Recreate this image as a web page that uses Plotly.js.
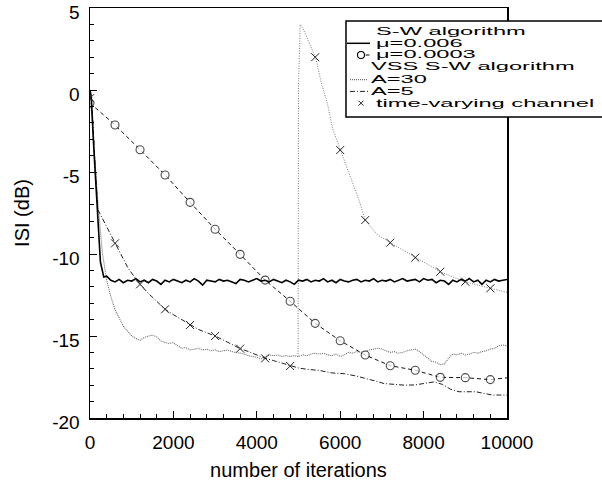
<!DOCTYPE html>
<html><head><meta charset="utf-8">
<script src="https://cdn.plot.ly/plotly-3.0.1.min.js"></script>
<style>
html,body{margin:0;padding:0;background:#fff;}
#chart{width:602px;height:491px;}
.annotation-text{transform:scaleX(2.15);transform-box:fill-box;transform-origin:0 50%;}
</style></head><body><div id="chart"></div>
<script>
// ---------------- data ----------------
const xTicks = [0, 2000, 4000, 6000, 8000, 10000];
const yTicks = [-20, -15, -10, -5, 0, 5];

// S-W algorithm, mu = 0.006 (solid)
const mu006X = [0,30,90,170,250,330,
 400,500,600,700,800,900,1000,1100,1200,1300,1400,1500,1600,1700,1800,1900,2000,2100,2200,2300,2400,2500,2600,2700,2800,2900,
 3000,3100,3200,3300,3400,3500,3600,3700,3800,3900,4000,4100,4200,4300,4400,4500,4600,4700,4800,4900,5000,5100,5200,5300,5400,5500,
 5600,5700,5800,5900,6000,6100,6200,6300,6400,6500,6600,6700,6800,6900,7000,7100,7200,7300,7400,7500,7600,7700,7800,7900,8000,8100,
 8200,8300,8400,8500,8600,8700,8800,8900,9000,9100,9200,9300,9400,9500,9600,9700,9800,9900,10000];
const mu006Y = [0,-0.4,-3.5,-7.1,-10.5,-11.4,
 -11.35,-11.6,-11.7,-11.55,-11.75,-11.6,-11.65,-11.5,-11.7,-11.6,-11.75,-11.55,-11.65,-11.85,-11.6,-11.7,-11.55,-11.65,-11.75,-11.6,-11.7,-11.5,-11.65,-11.9,-11.6,-11.65,
 -11.7,-11.55,-11.65,-11.6,-11.7,-11.8,-11.55,-11.6,-11.7,-11.6,-11.5,-11.65,-11.6,-11.7,-11.55,-11.65,-11.75,-11.6,-11.7,-11.85,-11.6,-11.65,-11.55,-11.7,-11.6,-11.65,
 -11.5,-11.7,-11.6,-11.75,-11.55,-11.65,-11.7,-11.6,-11.55,-11.7,-11.6,-11.65,-11.5,-11.7,-11.6,-11.65,-11.55,-11.7,-11.6,-11.5,-11.65,-11.6,-11.55,-11.7,-11.5,-11.6,
 -11.55,-11.75,-11.6,-11.65,-11.85,-11.6,-11.7,-11.55,-11.65,-11.5,-11.7,-11.6,-11.85,-11.6,-11.7,-11.55,-11.65,-11.6,-11.55];

// S-W algorithm, mu = 0.0003 (dashed, circles)
const mu0003X = [0,600,1200,1800,2400,3000,3600,4200,4800,5400,6000,6600,7200,7800,8400,9000,9600,10000];
const mu0003Y = [-0.8,-2.13,-3.64,-5.18,-6.85,-8.49,-10.02,-11.59,-12.88,-14.23,-15.29,-16.16,-16.81,-17.09,-17.52,-17.54,-17.66,-17.55];

// VSS S-W algorithm, A = 30 (dotted)
const a30X = [0,100,200,300,400,500,600,700,800,900,1000,1100,1200,1300,1400,1500,1600,1700,1800,1900,2000,2100,2200,2300,2400,2500,
 2600,2700,2800,2900,3000,3100,3200,3300,3400,3500,3600,3700,3800,3900,4000,4100,4200,4300,4400,4500,4600,4700,4800,4900,5000,
 5100,5200,5300,5400,5500,5600,5700,5800,5900,6000,6100,6200,6300,6400,6500,6600,6700,6800,6900,7000,7100,7200,7300,7400,7500,
 7600,7700,7800,7900,8000,8100,8200,8300,8400,8500,8600,8700,8800,8900,9000,9100,9200,9300,9400,9500,9600,9700,9800,9900,10000];
const a30Y = [0,-3.5,-7.2,-10.0,-11.6,-12.6,-13.4,-13.9,-14.4,-14.7,-15.0,-15.15,-15.25,-15.1,-15.0,-14.95,-15.05,-15.3,-15.4,-15.45,-15.4,-15.6,-15.75,-15.7,-15.85,-15.8,
 -15.75,-15.85,-15.8,-15.9,-15.85,-15.95,-15.9,-15.85,-15.95,-16.0,-16.05,-16.1,-16.2,-16.25,-16.3,-16.4,-16.25,-16.15,-16.2,-16.15,-16.25,-16.2,-16.25,-16.2,-16.25,
 -16.15,-16.2,-16.1,-16.05,-16.1,-16.05,-16.15,-16.2,-16.1,-16.25,-16.15,-16.0,-16.05,-15.95,-16.0,-15.95,-15.85,-15.8,-15.75,-15.8,-15.9,-16.0,-15.95,-16.05,-16.0,
 -15.9,-15.85,-15.8,-15.95,-16.15,-16.35,-16.55,-16.6,-16.75,-16.7,-16.35,-16.1,-16.15,-16.05,-16.15,-16.1,-16.0,-16.05,-15.95,-15.9,-15.8,-15.75,-15.6,-15.55,-15.6];

// VSS S-W algorithm, A = 5 (dash-dot)
const a5X = [0,60,120,190,250,350,450,600,750,900,1050,1200,1400,1600,1800,2000,2200,2400,2600,2800,3000,3200,3400,3600,3800,4000,4200,
 4400,4600,4800,5000,5200,5500,5800,6100,6400,6650,6850,7050,7300,7550,7800,8050,8250,8450,8650,8850,9050,9250,9450,9650,9850,10000];
const a5Y = [0,-1.5,-4.5,-7.3,-7.6,-8.1,-8.6,-9.35,-10.1,-10.8,-11.35,-11.85,-12.4,-12.9,-13.37,-13.7,-14.0,-14.33,-14.6,-14.8,-15.0,-15.25,-15.5,-15.77,-15.95,-16.15,-16.36,
 -16.5,-16.65,-16.83,-16.95,-17.03,-17.1,-17.25,-17.3,-17.45,-17.6,-17.75,-17.9,-17.95,-18.0,-17.98,-17.9,-17.8,-17.95,-18.25,-18.4,-18.4,-18.4,-18.5,-18.6,-18.6,-18.6];

// time-varying channel: curve after the channel change, and the x markers
const tvLineX = [4990,5000,5030,5040,5100,5200,5300,5415,5540,5700,5815,6000,6150,6300,6450,6600,6750,6900,7200,7500,7800,8130,8400,8700,9000,9300,9600,9800,10000];
const tvLineY = [-16.25,0.2,3.0,4.0,3.8,3.2,2.6,1.93,0.5,-0.9,-2.34,-3.66,-4.7,-5.69,-6.7,-7.93,-8.4,-8.84,-9.31,-9.76,-10.22,-10.67,-11.08,-11.4,-11.69,-11.9,-12.09,-12.25,-12.34];
const tvMarkX = [0,600,1200,1800,2400,3000,3600,4200,4800,5400,6000,6600,7200,7800,8400,9000,9600];
const tvMarkY = [-0.5,-9.35,-11.85,-13.37,-14.33,-15.0,-15.77,-16.36,-16.83,2.0,-3.66,-7.93,-9.31,-10.22,-11.08,-11.69,-12.09];

const legendLabels = ['S-W algorithm', '\u03bc=0.006', '\u03bc=0.0003', 'VSS S-W algorithm', 'A=30', 'A=5', 'time-varying channel'];

// ---------------- layout helpers ----------------
const PL = 90, PR = 507, PT = 8, PB = 418;
const px2x = p => (p - PL) / (PR - PL);
const px2y = p => (PB - p) / (PB - PT);
const FONT = 'Liberation Sans, Arial, Helvetica, sans-serif';

const traces = [
  {x: a30X, y: a30Y, mode: 'lines', name: 'A=30', showlegend: false,
   line: {color: '#6a6a6a', width: 1.1, dash: '1px,1px'}},
  {x: tvLineX, y: tvLineY, mode: 'lines', name: 'time-varying channel (after change)', showlegend: false,
   line: {color: '#7a7a7a', width: 1, dash: '1px,1.5px'}},
  {x: a5X, y: a5Y, mode: 'lines', name: 'A=5', showlegend: false,
   line: {color: '#222', width: 1, dash: '5px,2px,1px,2px'}},
  {x: mu0003X, y: mu0003Y, mode: 'lines+markers', name: '\u03bc=0.0003', showlegend: false,
   line: {color: '#111', width: 1, dash: '4px,3px'},
   marker: {symbol: 'circle', size: mu0003X.map((v, i) => i < mu0003X.length - 1 ? 8 : 0), color: '#fff', line: {color: '#000', width: 1.1}}},
  {x: mu006X, y: mu006Y, mode: 'lines', name: '\u03bc=0.006', showlegend: false,
   line: {color: '#000', width: 1.6}},
  {x: tvMarkX, y: tvMarkY, mode: 'markers', name: 'time-varying channel', showlegend: false,
   marker: {symbol: 'x-thin-open', size: 8, color: '#222', line: {color: '#222', width: 1}}}
];

// custom legend (box, samples, labels)
const rowY = [31.5, 43.3, 55.0, 66.8, 79.6, 91.4, 103.2];
const textX = [375, 375, 375, 370, 370, 370, 375];
const shapes = [
  {type: 'rect', xref: 'paper', yref: 'paper', x0: px2x(346), x1: px2x(604), y0: px2y(117), y1: px2y(21),
   line: {color: '#000', width: 1.5}, fillcolor: '#fff', layer: 'above'},
  {type: 'line', xref: 'paper', yref: 'paper', x0: px2x(347), x1: px2x(370), y0: px2y(rowY[1]), y1: px2y(rowY[1]),
   line: {color: '#000', width: 1.5}, layer: 'above'},
  {type: 'circle', xref: 'paper', yref: 'paper', x0: px2x(357.5), x1: px2x(364.5), y0: px2y(rowY[2] + 3.5), y1: px2y(rowY[2] - 3.5),
   line: {color: '#000', width: 1.1}, fillcolor: '#fff', layer: 'above'},
  {type: 'line', xref: 'paper', yref: 'paper', x0: px2x(365.5), x1: px2x(369.5), y0: px2y(rowY[2]), y1: px2y(rowY[2]),
   line: {color: '#000', width: 1}, layer: 'above'},
  {type: 'line', xref: 'paper', yref: 'paper', x0: px2x(350), x1: px2x(368), y0: px2y(rowY[4]), y1: px2y(rowY[4]),
   line: {color: '#6a6a6a', width: 1.1, dash: '1px,1px'}, layer: 'above'},
  {type: 'line', xref: 'paper', yref: 'paper', x0: px2x(350), x1: px2x(369), y0: px2y(rowY[5]), y1: px2y(rowY[5]),
   line: {color: '#222', width: 1, dash: '5px,2px,1px,2px'}, layer: 'above'},
  {type: 'line', xref: 'paper', yref: 'paper', x0: px2x(358.5), x1: px2x(363.5), y0: px2y(rowY[6] - 2.5), y1: px2y(rowY[6] + 2.5),
   line: {color: '#222', width: 1}, layer: 'above'},
  {type: 'line', xref: 'paper', yref: 'paper', x0: px2x(358.5), x1: px2x(363.5), y0: px2y(rowY[6] + 2.5), y1: px2y(rowY[6] - 2.5),
   line: {color: '#222', width: 1}, layer: 'above'}
];
const annotations = legendLabels.map((t, i) => ({
  text: t, xref: 'paper', yref: 'paper', x: px2x(textX[i]), y: px2y(rowY[i]),
  xanchor: 'left', yanchor: 'middle', align: 'left', showarrow: false, borderpad: 0,
  font: {family: FONT, size: 11, color: '#000'}
}));

const axisCommon = {
  showgrid: false, zeroline: false, showline: true, linecolor: '#000', linewidth: 1.5, mirror: true,
  ticks: 'inside', ticklen: 7, tickwidth: 1, tickcolor: '#000', ticklabeloverflow: 'allow',
  tickfont: {family: FONT, size: 19, color: '#000'}
};

const layout = {
  width: 602, height: 491,
  margin: {l: PL, r: 602 - PR, t: PT, b: 491 - PB, pad: 0},
  paper_bgcolor: '#fff', plot_bgcolor: '#fff',
  showlegend: false,
  xaxis: Object.assign({}, axisCommon, {
    range: [0, 10000], tickvals: xTicks, ticktext: xTicks.map(String),
    minor: {dtick: 400, tick0: 0, ticks: 'inside', ticklen: 4, tickcolor: '#000', tickwidth: 1},
    ticklabelstandoff: 7, automargin: false,
    title: {text: 'number of iterations', font: {family: FONT, size: 20, color: '#000'}, standoff: 10}
  }),
  yaxis: Object.assign({}, axisCommon, {
    range: [-20, 5], tickvals: yTicks, ticktext: yTicks.map(String),
    minor: {dtick: 1, tick0: 0, ticks: 'inside', ticklen: 4, tickcolor: '#000', tickwidth: 1},
    ticklabelstandoff: 5, ticklabelshift: 4, automargin: false,
    title: {text: 'ISI (dB)', font: {family: FONT, size: 20, color: '#000'}, standoff: 17}
  }),
  shapes: shapes,
  annotations: annotations
};

Plotly.newPlot('chart', traces, layout, {displayModeBar: false, staticPlot: true});
</script></body></html>
